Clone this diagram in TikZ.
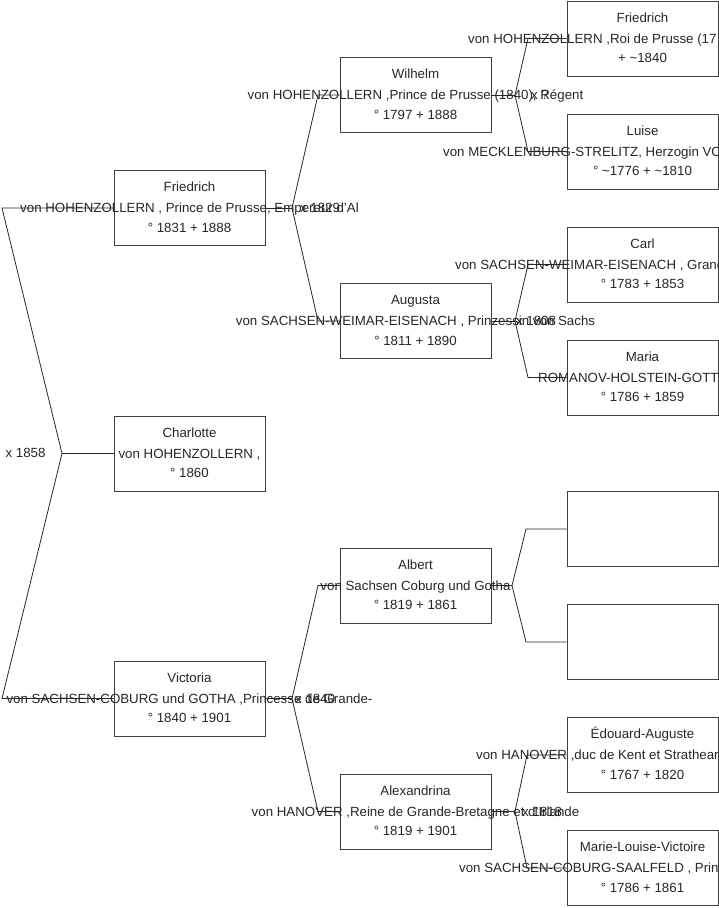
\documentclass[tikz,border=0pt]{standalone}
\usepackage{fontspec}
\setmainfont{Liberation Sans}
\newcommand\personlines[4]{%
  \node[txt] (#1a) at ([yshift=16.5pt]#1.center) {#2};
  \node[txt] (#1b) at ([yshift=-4.5pt]#1.center) {#3};
  \node[txt] (#1c) at ([yshift=-24pt]#1.center) {#4};}
\newcommand\personleft[5]{%
  \node[txt] (#1a) at ([yshift=16.5pt]#1.center) {#2};
  \node[ltxt] (#1b) at ([yshift=-4.5pt]#1.center -| #5,0) {#3};
  \node[txt] (#1c) at ([yshift=-24pt]#1.center) {#4};}
\begin{document}
\begin{tikzpicture}[x=1pt,y=-1pt,
  box/.style={draw=black!75, line width=0.8pt, minimum width=151pt, minimum height=75pt, inner sep=0pt},
  txt/.style={anchor=base, inner sep=0pt, text=black!85, font=\fontsize{13.3}{16}\selectfont},
  ltxt/.style={txt, anchor=base west},
  link/.style={draw=black!85, line width=0.8pt}]
\useasboundingbox (0,0) rectangle (719,908);
\clip (0,0) rectangle (719,908);
% generation 1
\node[box] (p1) at (189.5,208) {};
\node[box] (p2) at (189.5,453.5) {};
\node[box] (p3) at (189.5,698.5) {};
% generation 2
\node[box] (q1) at (415.5,95) {};
\node[box] (q2) at (415.5,321) {};
\node[box] (q3) at (415.5,585.5) {};
\node[box] (q4) at (415.5,811.5) {};
% generation 3
\node[box] (r1) at (642.5,38.5) {};
\node[box] (r2) at (642.5,151.5) {};
\node[box] (r3) at (642.5,264.5) {};
\node[box] (r4) at (642.5,377.5) {};
\node[box] (r5) at (642.5,529) {};
\node[box] (r6) at (642.5,642) {};
\node[box] (r7) at (642.5,755) {};
\node[box] (r8) at (642.5,868) {};
% connectors
\coordinate (v0) at (62,453.5);
\coordinate (c01) at (2,208);
\coordinate (c02) at (2,698.5);
\draw[link] (p1.west) -- (c01) -- (v0) -- (c02) -- (p3.west);
\draw[link] (v0) -- (p2.west);
\coordinate (v1) at (292,208);
\coordinate (c11) at (318,95);
\coordinate (c12) at (318,321);
\draw[link] (q1.west) -- (c11) -- (v1) -- (c12) -- (q2.west);
\draw[link] (p1.east) -- (v1);
\coordinate (v2) at (292,698.5);
\coordinate (c21) at (318,585.5);
\coordinate (c22) at (318,811.5);
\draw[link] (q3.west) -- (c21) -- (v2) -- (c22) -- (q4.west);
\draw[link] (p3.east) -- (v2);
\coordinate (w1) at (515,95);
\coordinate (d11) at (528,38.5);
\coordinate (d12) at (528,151.5);
\draw[link] (r1.west) -- (d11) -- (w1) -- (d12) -- (r2.west);
\draw[link] (q1.east) -- (w1);
\coordinate (w2) at (515,321);
\coordinate (d21) at (528,264.5);
\coordinate (d22) at (528,377.5);
\draw[link] (r3.west) -- (d21) -- (w2) -- (d22) -- (r4.west);
\draw[link] (q2.east) -- (w2);
\coordinate (w3) at (512,585.5);
\coordinate (d31) at (526,529);
\coordinate (d32) at (526,642);
\draw[link] (r5.west) -- (d31) -- (w3) -- (d32) -- (r6.west);
\draw[link] (q3.east) -- (w3);
\coordinate (w4) at (515,811.5);
\coordinate (d41) at (527,755);
\coordinate (d42) at (527,868);
\draw[link] (r7.west) -- (d41) -- (w4) -- (d42) -- (r8.west);
\draw[link] (q4.east) -- (w4);
% texts
\personlines{p1}{Friedrich}{von HOHENZOLLERN , Prince de Prusse, Empereur d'Al}{° 1831 + 1888}
\personlines{p2}{Charlotte}{von HOHENZOLLERN ,}{° 1860}
\personlines{p3}{Victoria}{von SACHSEN-COBURG und GOTHA ,Princesse de Grande-}{° 1840 + 1901}
\personlines{q1}{Wilhelm}{von HOHENZOLLERN ,Prince de Prusse (1840), Régent}{° 1797 + 1888}
\personlines{q2}{Augusta}{von SACHSEN-WEIMAR-EISENACH , Prinzessin von Sachs}{° 1811 + 1890}
\personlines{q3}{Albert}{von Sachsen Coburg und Gotha}{° 1819 + 1861}
\personlines{q4}{Alexandrina}{von HANOVER ,Reine de Grande-Bretagne et d'Irlande}{° 1819 + 1901}
\personleft{r1}{Friedrich}{von HOHENZOLLERN ,Roi de Prusse (17}{+ \textasciitilde 1840}{468}
\personleft{r2}{Luise}{von MECKLENBURG-STRELITZ, Herzogin VO}{° \textasciitilde 1776 + \textasciitilde 1810}{443}
\personleft{r3}{Carl}{von SACHSEN-WEIMAR-EISENACH , Grand}{° 1783 + 1853}{455}
\personleft{r4}{Maria}{ROMANOV-HOLSTEIN-GOTT}{° 1786 + 1859}{538}
\personleft{r7}{Édouard-Auguste}{von HANOVER ,duc de Kent et Strathear}{° 1767 + 1820}{476}
\personleft{r8}{Marie-Louise-Victoire}{von SACHSEN-COBURG-SAALFELD , Prin}{° 1786 + 1861}{459}
% marriage labels
\node[txt] (m0) at (25.5,457.5) {x 1858};
\node[txt] (m1) at (320,212.5) {x 1829};
\node[txt] (m2) at (315,703) {x 1840};
\node[txt] (m3) at (540,99.5) {x ?};
\node[txt] (m4) at (536,325.5) {x 1808};
\node[txt] (m5) at (542,816) {x 1818};
\end{tikzpicture}
\end{document}
